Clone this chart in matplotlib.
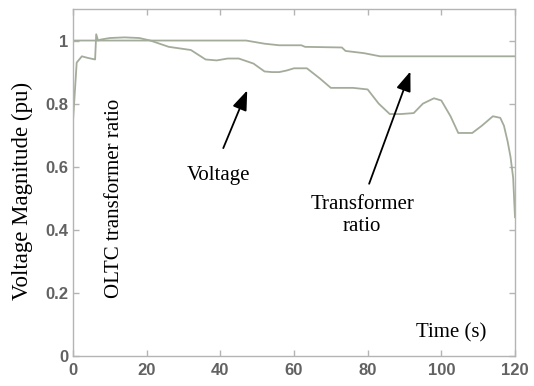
import matplotlib
matplotlib.use("Agg")
import matplotlib.pyplot as plt

# Bus voltage after the disturbance (pu)
time_v = [0, 0.3, 1.0, 2.4, 4, 6.0, 6.3, 6.8, 7.5, 10, 14, 18, 21, 26, 32, 36, 39,
          42, 45, 49, 52, 54, 56, 58, 60, 63.5, 67, 70, 72, 76, 80, 83, 86, 89,
          92.5, 95, 98, 100, 102.5, 104.6, 108.4, 111, 114, 116, 117, 118,
          118.8, 119.5, 120]
voltage = [0.745, 0.80, 0.93, 0.95, 0.945, 0.94, 1.02, 1.00, 1.003, 1.008, 1.01,
           1.008, 1.0, 0.98, 0.97, 0.94, 0.937, 0.943, 0.943, 0.927, 0.902, 0.9,
           0.9, 0.905, 0.912, 0.912, 0.88, 0.85, 0.85, 0.85, 0.845, 0.80, 0.767,
           0.767, 0.77, 0.80, 0.817, 0.81, 0.76, 0.707, 0.707, 0.73, 0.76, 0.755,
           0.73, 0.68, 0.63, 0.565, 0.44]

# OLTC tap ratio
time_r = [0, 47, 52, 56, 62, 63, 73, 74, 79, 83.4, 120]
ratio = [1.0, 1.0, 0.99, 0.985, 0.985, 0.98, 0.978, 0.967, 0.96, 0.95, 0.95]

x_ticks = [0, 20, 40, 60, 80, 100, 120]
y_ticks = [0, 0.2, 0.4, 0.6, 0.8, 1.0]
y_tick_labels = ["0", "0.2", "0.4", "0.6", "0.8", "1"]

line_color = "#a3ac9b"
frame_color = "#b4b4b4"
serif = ["Liberation Serif", "DejaVu Serif"]

fig = plt.figure(figsize=(5.34, 3.86), dpi=100)
ax = fig.add_axes([0.1367, 0.0777, 0.8277, 0.899])

ax.plot(time_r, ratio, color=line_color, lw=1.3)
ax.plot(time_v, voltage, color=line_color, lw=1.3)

ax.set_xlim(0, 120)
ax.set_ylim(0, 1.1)
ax.set_xticks(x_ticks)
ax.set_yticks(y_ticks)
ax.set_yticklabels(y_tick_labels)
for s in ax.spines.values():
    s.set_color(frame_color)
    s.set_linewidth(1.0)
ax.tick_params(direction="in", length=4, width=1.0, color=frame_color,
               top=True, right=True, labelsize=12, labelcolor="#626262")
ax.tick_params(axis="x", pad=5)
ax.tick_params(axis="y", pad=3.5)
for lbl in ax.get_xticklabels() + ax.get_yticklabels():
    lbl.set_family(["Liberation Sans", "DejaVu Sans"])
    lbl.set_fontweight("bold")

ax.set_ylabel("Voltage Magnitude (pu)", family=serif, fontsize=16.5)
ax.yaxis.set_label_coords(-0.09, 0.475)

ax.text(102.7, 0.0726, "Time (s)", family=serif, fontsize=15,
        ha="center", va="center")
ax.text(11.4, 0.50, "OLTC transformer ratio", family=serif,
        fontsize=15, rotation=90, ha="center", va="center")
ax.text(39.4, 0.571, "Voltage", family=serif, fontsize=15,
        ha="center", va="center")
ax.text(78.5, 0.446, "Transformer\nratio", family=serif, fontsize=15,
        ha="center", va="center", linespacing=1.25)

arrow_style = dict(arrowstyle="-|>,head_length=1.2,head_width=0.45",
                   color="black", lw=1.3, shrinkA=0, shrinkB=0)
ax.annotate("", xy=(47.3, 0.842), xytext=(40.8, 0.659), arrowprops=arrow_style)
ax.annotate("", xy=(91.6, 0.902), xytext=(80.4, 0.546), arrowprops=arrow_style)

fig.savefig("out.png", dpi=100)
